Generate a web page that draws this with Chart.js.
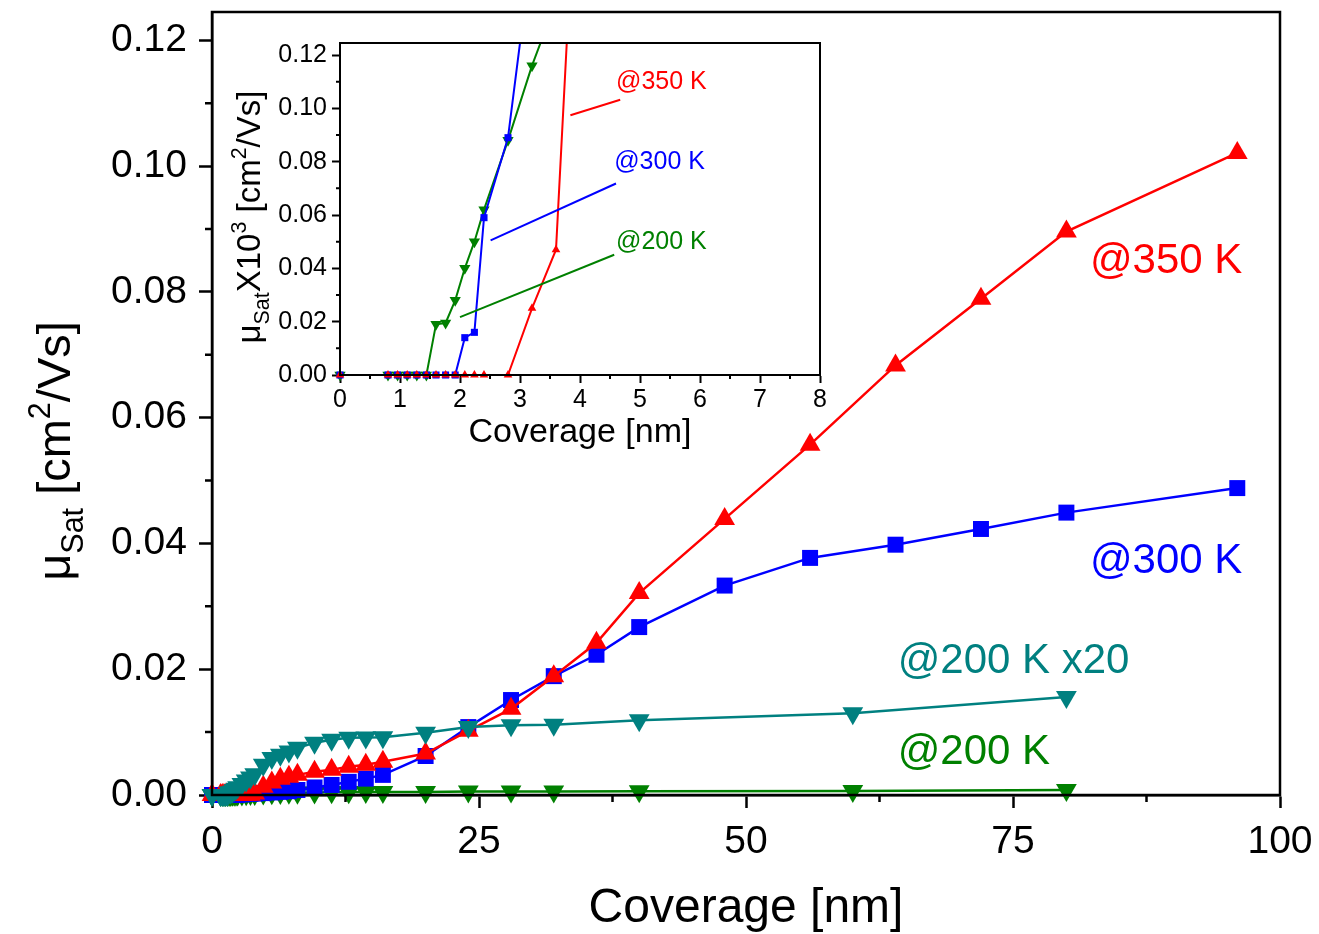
<!DOCTYPE html>
<html>
<head>
<meta charset="utf-8">
<script src="https://cdn.jsdelivr.net/npm/chart.js@4.4.1/dist/chart.umd.min.js"></script>
<style>
  html, body { margin: 0; padding: 0; background: #fff; }
  #wrap { position: relative; width: 1319px; height: 934px; }
  #main { position: absolute; left: 0; top: 0; }
  #inset { position: absolute; left: 230px; top: 30px; }
</style>
</head>
<body>
<div id="wrap">
  <canvas id="main" width="1319" height="934"></canvas>
  <canvas id="inset" width="600" height="425"></canvas>
</div>
<script>
// coverage [nm] and saturation mobility [cm^2/Vs]
const cov350 = [0, 0.8, 0.96, 1.12, 1.28, 1.44, 1.6, 1.76, 1.92, 2.08, 2.24, 2.4, 2.8, 3.2, 3.6, 4,
  4.8, 5.6, 6.4, 7.2, 8, 9.6, 11.2, 12.8, 14.4, 16, 20, 24, 28, 32, 36, 40, 48, 56, 64, 72, 80, 96];
const mu350 = [0, 0, 0, 0, 0, 0, 0, 0, 0, 0, 0, 0, 0, 0.000025, 0.000047, 0.00022,
  0.0013, 0.0020, 0.0026, 0.0029, 0.0032, 0.0037, 0.0040, 0.0045, 0.0048, 0.0053,
  0.0066, 0.0102, 0.0137, 0.0189, 0.0242, 0.0321, 0.0439, 0.0557, 0.0683, 0.0789, 0.0896, 0.1021];

const cov300 = [0, 0.8, 0.96, 1.12, 1.28, 1.44, 1.6, 1.76, 1.92, 2.08, 2.24, 2.4, 2.8, 3.2, 3.6, 4,
  4.8, 5.6, 6.4, 7.2, 8, 9.6, 11.2, 12.8, 14.4, 16, 20, 24, 28, 32, 36, 40, 48, 56, 64, 72, 80, 96];
const mu300 = [0, 0, 0, 0, 0, 0, 0, 0, 0, 0.000014, 0.000016, 0.000059, 0.000089, 0.00016, 0.0002, 0.00022,
  0.0003, 0.0004, 0.0005, 0.0006, 0.0008, 0.0012, 0.0016, 0.0021, 0.0026, 0.0032,
  0.0062, 0.0108, 0.0151, 0.0189, 0.0223, 0.0267, 0.0333, 0.0377, 0.0398, 0.0423, 0.0449, 0.0488];

const cov200 = [0, 0.8, 0.96, 1.12, 1.28, 1.44, 1.6, 1.76, 1.92, 2.08, 2.24, 2.4, 2.8, 3.2, 3.6, 4,
  4.8, 5.6, 6.4, 7.2, 8, 9.6, 11.2, 12.8, 14.4, 16, 20, 24, 28, 32, 40, 60, 80];
const mu200 = [0, 0, 0, 0, 0, 0, 0.000019, 0.0000195, 0.000028, 0.000040, 0.000050, 0.000062, 0.000088,
  0.000116, 0.00014, 0.000165, 0.00024, 0.000295, 0.00032, 0.000345, 0.000375,
  0.000415, 0.00044, 0.000455, 0.000458, 0.00046, 0.000495, 0.00054, 0.000555, 0.000558,
  0.000595, 0.00065, 0.00078];

// axis ticks
const xTicksMain = [0, 25, 50, 75, 100];
const xMinorMain = [12.5, 37.5, 62.5, 87.5];
const yTicksMain = [0, 0.02, 0.04, 0.06, 0.08, 0.10, 0.12];
const yMinorMain = [0.01, 0.03, 0.05, 0.07, 0.09, 0.11];
const xTicksInset = [0, 1, 2, 3, 4, 5, 6, 7, 8];
const xMinorInset = [0.5, 1.5, 2.5, 3.5, 4.5, 5.5, 6.5, 7.5];
const yTicksInset = [0, 0.02, 0.04, 0.06, 0.08, 0.10, 0.12];
const yMinorInset = [0.01, 0.03, 0.05, 0.07, 0.09, 0.11];

const FONT = "'Liberation Sans', Arial, sans-serif";
const RED = '#ff0000', BLUE = '#0000ff', TEAL = '#008080', GREEN = '#008000';

function pts(xs, ys, k) {
  return xs.map((x, i) => ({ x: x, y: ys[i] * k }));
}

// text with sub/superscripts, optionally rotated (reads bottom to top)
function drawRich(ctx, parts, size, cx, cy, rotated) {
  ctx.save();
  ctx.translate(cx, cy);
  if (rotated) ctx.rotate(-Math.PI / 2);
  ctx.fillStyle = '#000';
  ctx.textAlign = 'left';
  ctx.textBaseline = 'alphabetic';
  let total = 0;
  const segs = parts.map(p => {
    const s = p.k ? size * 0.65 : size;
    ctx.font = s + 'px ' + FONT;
    const w = ctx.measureText(p.t).width;
    total += w;
    return { t: p.t, s: s, w: w, dy: p.k === 'sub' ? size * 0.28 : (p.k === 'sup' ? -size * 0.42 : 0) };
  });
  let x = -total / 2;
  segs.forEach(g => {
    ctx.font = g.s + 'px ' + FONT;
    ctx.fillText(g.t, x, g.dy);
    x += g.w;
  });
  ctx.restore();
}

function decor(cfg) {
  return {
    id: 'decor',
    afterDraw(chart) {
      const ctx = chart.ctx, a = chart.chartArea;
      const xs = chart.scales.x, ys = chart.scales.y;
      ctx.save();
      ctx.strokeStyle = '#000';
      ctx.lineWidth = cfg.lw;
      ctx.beginPath();
      cfg.minorX.forEach(v => {
        const p = xs.getPixelForValue(v);
        ctx.moveTo(p, a.bottom);
        ctx.lineTo(p, a.bottom + cfg.minorLen);
      });
      cfg.minorY.forEach(v => {
        const p = ys.getPixelForValue(v);
        ctx.moveTo(a.left, p);
        ctx.lineTo(a.left - cfg.minorLen, p);
      });
      ctx.stroke();
      ctx.strokeRect(a.left, a.top, a.right - a.left, a.bottom - a.top);

      (cfg.leaders || []).forEach(l => {
        ctx.strokeStyle = l.color;
        ctx.lineWidth = 2;
        ctx.beginPath();
        ctx.moveTo(xs.getPixelForValue(l.x1), ys.getPixelForValue(l.y1));
        ctx.lineTo(xs.getPixelForValue(l.x2), ys.getPixelForValue(l.y2));
        ctx.stroke();
      });

      ctx.textAlign = 'left';
      ctx.textBaseline = 'middle';
      cfg.notes.forEach(n => {
        ctx.fillStyle = n.color;
        ctx.font = n.size + 'px ' + FONT;
        ctx.fillText(n.text, xs.getPixelForValue(n.x), ys.getPixelForValue(n.y));
      });

      ctx.fillStyle = '#000';
      ctx.textAlign = 'center';
      ctx.textBaseline = 'alphabetic';
      ctx.font = cfg.xTitle.size + 'px ' + FONT;
      ctx.fillText(cfg.xTitle.text, cfg.xTitle.x, cfg.xTitle.y);
      drawRich(ctx, cfg.yTitle.parts, cfg.yTitle.size, cfg.yTitle.x, cfg.yTitle.y, true);
      ctx.restore();
    }
  };
}

function noPad(s) {
  s.paddingTop = 0; s.paddingBottom = 0; s.paddingLeft = 0; s.paddingRight = 0;
}

// ---------- main chart ----------
// first dataset is drawn on top
new Chart(document.getElementById('main'), {
  type: 'scatter',
  data: {
    datasets: [
      {
        label: '@200 K x20',
        data: pts(cov200, mu200, 20), // plotted x20 as labelled
        borderColor: TEAL, backgroundColor: TEAL,
        pointStyle: 'triangle', pointRotation: 180, pointRadius: 12
      },
      {
        label: '@350 K',
        data: pts(cov350, mu350, 1),
        borderColor: RED, backgroundColor: RED,
        pointStyle: 'triangle', pointRadius: 12
      },
      {
        label: '@300 K',
        data: pts(cov300, mu300, 1),
        borderColor: BLUE, backgroundColor: BLUE,
        pointStyle: 'rect', pointRadius: 11.3
      },
      {
        label: '@200 K',
        data: pts(cov200, mu200, 1),
        borderColor: GREEN, backgroundColor: GREEN,
        pointStyle: 'triangle', pointRotation: 180, pointRadius: 12
      }
    ].map(d => Object.assign(d, { showLine: true, tension: 0, borderWidth: 2.5, pointBorderWidth: 0, clip: 20 }))
  },
  options: {
    responsive: false,
    animation: false,
    devicePixelRatio: 1,
    events: [],
    layout: { padding: { left: 0, right: 39, top: 12, bottom: 0 } },
    plugins: { legend: { display: false }, tooltip: { enabled: false } },
    scales: {
      x: {
        type: 'linear', min: 0, max: 100,
        afterBuildTicks: s => { s.ticks = xTicksMain.map(v => ({ value: v })); },
        afterFit: s => { s.height = 139; noPad(s); },
        grid: { drawOnChartArea: false, tickLength: 13, tickWidth: 2.5, tickColor: '#000' },
        border: { color: '#000', width: 2.5 },
        ticks: { color: '#000', font: { family: FONT, size: 39 }, padding: 11,
          maxRotation: 0, autoSkip: false, callback: v => String(v) }
      },
      y: {
        type: 'linear', min: 0, max: 0.1245,
        afterBuildTicks: s => { s.ticks = yTicksMain.map(v => ({ value: v })); },
        afterFit: s => { s.width = 212; noPad(s); },
        grid: { drawOnChartArea: false, tickLength: 13, tickWidth: 2.5, tickColor: '#000' },
        border: { color: '#000', width: 2.5 },
        ticks: { color: '#000', font: { family: FONT, size: 39 }, padding: 12,
          autoSkip: false, callback: v => Number(v).toFixed(2) }
      }
    }
  },
  plugins: [decor({
    lw: 2.5, minorLen: 7, minorX: xMinorMain, minorY: yMinorMain,
    notes: [
      { text: '@350 K', x: 82.2, y: 0.0848, color: RED, size: 42 },
      { text: '@300 K', x: 82.2, y: 0.0372, color: BLUE, size: 42 },
      { text: '@200 K x20', x: 64.2, y: 0.0212, color: TEAL, size: 42 },
      { text: '@200 K', x: 64.2, y: 0.0068, color: GREEN, size: 42 }
    ],
    xTitle: { text: 'Coverage [nm]', x: 746, y: 922, size: 48 },
    yTitle: {
      x: 70, y: 451, size: 47,
      parts: [{ t: 'μ' }, { t: 'Sat', k: 'sub' }, { t: ' [cm' }, { t: '2', k: 'sup' }, { t: '/Vs]' }]
    }
  })]
});

// ---------- inset (values x10^3) ----------
new Chart(document.getElementById('inset'), {
  type: 'scatter',
  data: {
    datasets: [
      {
        label: '@350 K',
        data: pts(cov350, mu350, 1000),
        borderColor: RED, backgroundColor: RED,
        pointStyle: 'triangle', pointRadius: 5
      },
      {
        label: '@300 K',
        data: pts(cov300, mu300, 1000),
        borderColor: BLUE, backgroundColor: BLUE,
        pointStyle: 'rect', pointRadius: 5
      },
      {
        label: '@200 K',
        data: pts(cov200, mu200, 1000),
        borderColor: GREEN, backgroundColor: GREEN,
        pointStyle: 'triangle', pointRotation: 180, pointRadius: 6.5
      }
    ].map(d => Object.assign(d, {
      showLine: true, tension: 0, borderWidth: 2, pointBorderWidth: 0,
      clip: { left: 10, right: 10, top: 0, bottom: 10 }
    }))
  },
  options: {
    responsive: false,
    animation: false,
    devicePixelRatio: 1,
    events: [],
    layout: { padding: { left: 0, right: 10, top: 13, bottom: 0 } },
    plugins: { legend: { display: false }, tooltip: { enabled: false } },
    scales: {
      x: {
        type: 'linear', min: 0, max: 8,
        afterBuildTicks: s => { s.ticks = xTicksInset.map(v => ({ value: v })); },
        afterFit: s => { s.height = 80; noPad(s); },
        grid: { drawOnChartArea: false, tickLength: 8, tickWidth: 2, tickColor: '#000' },
        border: { color: '#000', width: 2 },
        ticks: { color: '#000', font: { family: FONT, size: 25 }, padding: 2,
          maxRotation: 0, autoSkip: false, callback: v => String(v) }
      },
      y: {
        type: 'linear', min: 0, max: 0.1245,
        afterBuildTicks: s => { s.ticks = yTicksInset.map(v => ({ value: v })); },
        afterFit: s => { s.width = 110; noPad(s); },
        grid: { drawOnChartArea: false, tickLength: 8, tickWidth: 2, tickColor: '#000' },
        border: { color: '#000', width: 2 },
        ticks: { color: '#000', font: { family: FONT, size: 25 }, padding: 5,
          autoSkip: false, callback: v => Number(v).toFixed(2) }
      }
    }
  },
  plugins: [decor({
    lw: 2, minorLen: 4, minorX: xMinorInset, minorY: yMinorInset,
    leaders: [
      { x1: 3.84, y1: 0.0974, x2: 4.67, y2: 0.1032, color: RED },
      { x1: 2.51, y1: 0.0505, x2: 4.6, y2: 0.0718, color: BLUE },
      { x1: 2.0, y1: 0.0217, x2: 4.57, y2: 0.0451, color: GREEN }
    ],
    notes: [
      { text: '@350 K', x: 4.6, y: 0.110, color: RED, size: 25 },
      { text: '@300 K', x: 4.57, y: 0.080, color: BLUE, size: 25 },
      { text: '@200 K', x: 4.6, y: 0.050, color: GREEN, size: 25 }
    ],
    xTitle: { text: 'Coverage [nm]', x: 350, y: 412, size: 34 },
    yTitle: {
      x: 30, y: 187, size: 33,
      parts: [{ t: 'μ' }, { t: 'Sat', k: 'sub' }, { t: 'X10' }, { t: '3', k: 'sup' },
        { t: ' [cm' }, { t: '2', k: 'sup' }, { t: '/Vs]' }]
    }
  })]
});
</script>
</body>
</html>
